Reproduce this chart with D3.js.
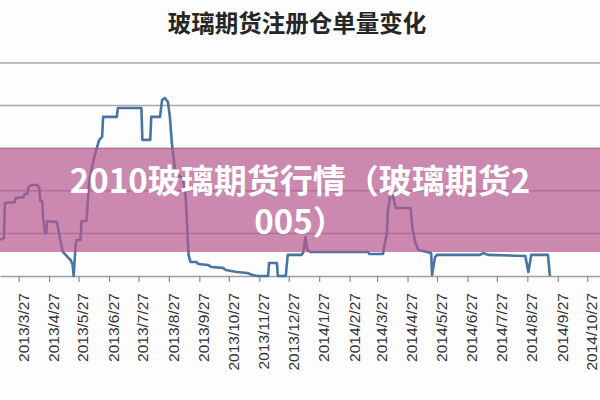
<!DOCTYPE html>
<html><head><meta charset="utf-8">
<script src="https://cdn.jsdelivr.net/npm/d3@7"></script>
<style>
html,body{margin:0;padding:0;background:#fff;}
#wrap{position:relative;width:600px;height:400px;}
svg{display:block;}
#banner{position:absolute;left:0;top:148px;width:600px;height:104px;text-align:center;
  font-family:'Noto Sans CJK SC',sans-serif;font-weight:bold;font-size:33px;line-height:41px;color:#fff;
  padding-top:11px;box-sizing:border-box;}
#banner div{height:41px;overflow:visible;white-space:nowrap;}
</style></head>
<body><div id="wrap"><svg id="c" width="600" height="400"></svg><div id="banner"></div></div>
<script>
const title = "玻璃期货注册仓单量变化";
const bannerLines = ["2010玻璃期货行情（玻璃期货2", "005）"];
const tickLabels = ["2013/3/27","2013/4/27","2013/5/27","2013/6/27","2013/7/27","2013/8/27","2013/9/27","2013/10/27","2013/11/27","2013/12/27",
  "2014/1/27","2014/2/27","2014/3/27","2014/4/27","2014/5/27","2014/6/27","2014/7/27","2014/8/27","2014/9/27","2014/10/27"];
const gridValues = [0, 2000, 4000, 6000, 8000, 10000];
const dates = ["2013-03-08","2013-03-12","2013-03-13","2013-03-23","2013-03-24","2013-04-01","2013-04-02","2013-04-05","2013-04-06","2013-04-09",
  "2013-04-15","2013-04-17","2013-04-18","2013-04-20","2013-04-21","2013-04-23","2013-04-24","2013-04-25","2013-05-02","2013-05-05",
  "2013-05-08","2013-05-11","2013-05-16","2013-05-19","2013-05-21","2013-05-22","2013-05-24","2013-05-25","2013-05-29","2013-05-30",
  "2013-06-04","2013-06-07","2013-06-12","2013-06-17","2013-06-20","2013-06-21","2013-07-05","2013-07-06","2013-07-30","2013-07-31",
  "2013-08-08","2013-08-09","2013-08-18","2013-08-20","2013-08-23","2013-08-26","2013-08-28","2013-08-30","2013-09-02","2013-09-05",
  "2013-09-10","2013-09-13","2013-09-16","2013-09-18","2013-09-24","2013-09-26","2013-10-06","2013-10-09","2013-10-21","2013-10-24",
  "2013-11-04","2013-11-15","2013-11-20","2013-11-25","2013-12-06","2013-12-07","2013-12-15","2013-12-16","2013-12-24","2013-12-26",
  "2014-01-09","2014-01-11","2014-01-13","2014-01-15","2014-01-18","2014-03-18","2014-03-19","2014-04-02","2014-04-04","2014-04-06",
  "2014-04-07","2014-04-10","2014-04-12","2014-04-15","2014-04-30","2014-05-02","2014-05-05","2014-05-08","2014-05-17","2014-05-21",
  "2014-05-22","2014-05-25","2014-05-27","2014-07-10","2014-07-13","2014-07-18","2014-08-25","2014-08-28","2014-08-31","2014-09-17",
  "2014-09-19"];
const receipts = [1700,1780,3430,3470,3660,3710,3850,3850,4180,4270,
  4270,4130,3520,3520,2680,2020,2020,2580,2540,2540,
  1780,1130,890,750,520,0,1460,1690,1690,2580,
  2580,4510,5590,6390,6530,7470,7470,7890,7890,6390,
  6390,7470,7470,8260,8360,8170,7470,6240,5070,4740,
  4600,3800,990,660,660,560,520,420,380,280,
  190,140,50,0,0,610,610,0,0,990,
  990,1130,1830,1220,1130,1130,1030,1030,1550,2020,
  3100,3900,3800,3190,3190,2250,1550,1220,1130,1080,
  50,890,990,990,1080,990,940,190,990,990,
  0];

const W = 600, H = 400;
const svg = d3.select("#c");
const parse = d3.timeParse("%Y-%m-%d");
const parseTick = d3.timeParse("%Y/%m/%d");
const data = dates.map((d, i) => ({date: parse(d), v: receipts[i]}));

const x = d3.scaleTime().domain([parse("2013-03-08"), parse("2014-11-09")]).range([0, W]);
const y = d3.scaleLinear().domain([0, 10000]).range([276, 63]);

svg.append("rect").attr("width", W).attr("height", H).attr("fill", "#fdfdfd");

// title
svg.append("text").attr("x", 297).attr("y", 32).attr("text-anchor", "middle")
  .attr("font-family", "'Noto Sans CJK SC', sans-serif").attr("font-weight", "bold")
  .attr("font-size", 23.5).attr("fill", "#262626").text(title);

// gridlines
svg.append("g").selectAll("line").data(gridValues.slice(1)).join("line")
  .attr("x1", 0).attr("x2", W).attr("y1", d => y(d)).attr("y2", d => y(d))
  .attr("stroke", "#a8a8a8").attr("stroke-width", 1.5);

// x axis
const ticks = tickLabels.map(t => parseTick(t));
const xAxis = d3.axisBottom(x).tickValues(ticks).tickSize(6).tickSizeOuter(0)
  .tickFormat((d, i) => tickLabels[i]);
const gx = svg.append("g").attr("transform", `translate(0,${y(0)})`).call(xAxis);
gx.select(".domain").attr("stroke", "#a0a0a0").attr("stroke-width", 1.5);
gx.selectAll(".tick line").attr("stroke", "#8a8a8a").attr("stroke-width", 1.2);
gx.selectAll(".tick text")
  .attr("font-family", "'Liberation Sans', Arial, sans-serif").attr("font-size", 15.5)
  .attr("fill", "#353535").attr("text-anchor", "end")
  .attr("x", 0).attr("y", 0).attr("dy", "0.35em")
  .attr("transform", "translate(4,17) rotate(-90)");

// line
const line = d3.line().x(d => x(d.date)).y(d => y(d.v));
svg.append("path").datum(data).attr("d", line).attr("fill", "none")
  .attr("stroke", "#4875a4").attr("stroke-width", 2.6).attr("stroke-linejoin", "round");

// banner
svg.append("rect").attr("x", 0).attr("y", 148).attr("width", W).attr("height", 104)
  .attr("fill", "#b5578f").attr("opacity", 0.7);
d3.select("#banner").append("p").style("margin", "0")
  .html(bannerLines.join("<br>"));
</script></body></html>
